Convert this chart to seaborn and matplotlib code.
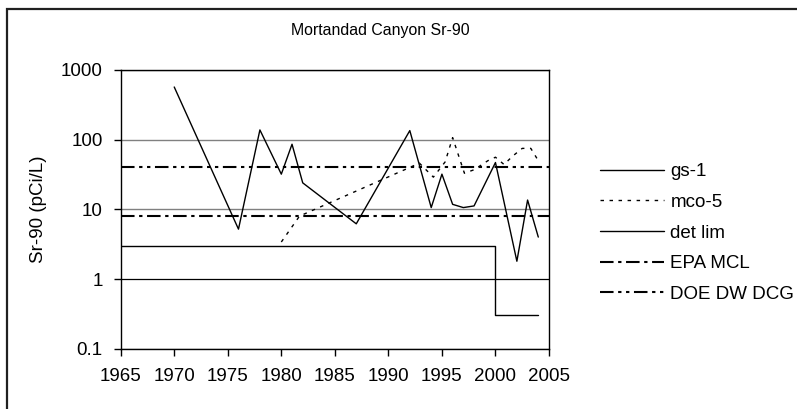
import matplotlib
matplotlib.use("Agg")
import matplotlib.pyplot as plt
from matplotlib.patches import Rectangle
from matplotlib.ticker import FixedLocator, FixedFormatter, NullLocator
import seaborn as sns
import pandas as pd

# Sr-90 concentrations (pCi/L) in Mortandad Canyon wells
gs1_year = [1970, 1976, 1978, 1980, 1981, 1982, 1987, 1992, 1994, 1995,
            1996, 1997, 1998, 2000, 2002, 2003, 2004]
gs1_value = [570, 5.2, 138, 32, 86, 24, 6.2, 135, 10.6, 32,
             11.8, 10.6, 11.2, 47, 1.8, 13.6, 4.0]

mco5_year = [1980.0, 1981.7, 1992.9, 1994.2, 1995.3, 1996.0, 1997.1, 1998.0,
             1999.3, 2000.0, 2000.8, 2001.6, 2002.5, 2003.3, 2004.0]
mco5_value = [3.4, 8.0, 46, 29, 48, 107, 33, 37,
              50, 56, 44, 58, 75, 75, 50]

detlim_year = [1965, 2000, 2000, 2004]
detlim_value = [3, 3, 0.3, 0.3]

epa_mcl = 8
doe_dcg = 40
limit_span = [1965, 2005]

x_ticks = [1965, 1970, 1975, 1980, 1985, 1990, 1995, 2000, 2005]
y_ticks = [0.1, 1, 10, 100, 1000]
y_tick_labels = ["0.1", "1", "10", "100", "1000"]

sns.set_theme(style="white")
plt.rcParams["font.family"] = ["Liberation Sans", "DejaVu Sans"]
plt.rcParams["text.color"] = "black"
plt.rcParams["axes.labelcolor"] = "black"

W, H = 797, 409
fig = plt.figure(figsize=(W / 100, H / 100), dpi=100)
ax = fig.add_axes([120.7 / W, 1 - 348.7 / H, (549 - 120.7) / W, (348.7 - 70) / H])

gs1 = pd.DataFrame({"year": gs1_year, "value": gs1_value})
mco5 = pd.DataFrame({"year": mco5_year, "value": mco5_value})
detlim = pd.DataFrame({"year": detlim_year, "value": detlim_value})
epa = pd.DataFrame({"year": limit_span, "value": [epa_mcl] * 2})
doe = pd.DataFrame({"year": limit_span, "value": [doe_dcg] * 2})

sns.lineplot(data=gs1, x="year", y="value", ax=ax, color="black",
             linewidth=1.0, estimator=None, sort=False, label="gs-1")
sns.lineplot(data=mco5, x="year", y="value", ax=ax, color="black",
             linewidth=1.0, estimator=None, sort=False, label="mco-5",
             dashes=False)
ax.lines[-1].set_dashes((2.5, 4.0))
sns.lineplot(data=detlim, x="year", y="value", ax=ax, color="black",
             linewidth=1.0, estimator=None, sort=False, label="det lim")
sns.lineplot(data=epa, x="year", y="value", ax=ax, color="black",
             linewidth=1.5, estimator=None, sort=False, label="EPA MCL")
ax.lines[-1].set_dashes((6.5, 2.2, 1.6, 2.2))
sns.lineplot(data=doe, x="year", y="value", ax=ax, color="black",
             linewidth=1.5, estimator=None, sort=False, label="DOE DW DCG")
ax.lines[-1].set_dashes((6.5, 2.2, 1.6, 2.2, 1.6, 2.2))

ax.set_yscale("log")
ax.set_xlim(1965, 2005)
ax.set_ylim(0.1, 1000)
ax.set_xticks(x_ticks)
ax.set_xticklabels([str(t) for t in x_ticks])
ax.yaxis.set_major_locator(FixedLocator(y_ticks))
ax.yaxis.set_major_formatter(FixedFormatter(y_tick_labels))
ax.yaxis.set_minor_locator(NullLocator())
ax.set_xlabel("")
ax.set_ylabel("Sr-90 (pCi/L)", fontsize=13.5, labelpad=10, color="black")

ax.grid(axis="y", color="#808080", linewidth=1.0)
ax.grid(axis="x", visible=False)
for val, gl in zip(y_ticks, ax.get_ygridlines()):
    if val == 1:
        gl.set_color("black")
        gl.set_linewidth(0.9)
ax.set_axisbelow(True)

for sp in ax.spines.values():
    sp.set_visible(True)
    sp.set_color("black")
    sp.set_linewidth(1.0)

ax.tick_params(axis="both", which="major", direction="out", length=5,
               width=1.0, color="black", labelsize=13.5, labelcolor="black",
               left=True, bottom=True)
ax.tick_params(axis="x", pad=9)
ax.tick_params(axis="y", pad=8)

leg = ax.legend(loc="center left", bbox_to_anchor=(600 / W, 1 - 233 / H),
                bbox_transform=fig.transFigure, frameon=False, fontsize=13.5,
                handlelength=3.4, handletextpad=0.35, labelspacing=0.72,
                borderpad=0, borderaxespad=0)
for t in leg.get_texts():
    t.set_color("black")

fig.text(380 / W, 1 - 30 / H, "Mortandad Canyon Sr-90", ha="center",
         va="center", fontsize=11.4, color="black")

# outer chart border
fig.patches.append(Rectangle((7 / W, -0.05), 1.1, 1 - 9 / H + 0.05,
                             transform=fig.transFigure, fill=False,
                             edgecolor="#202020", linewidth=1.6))

fig.savefig("out.png", dpi=100)
